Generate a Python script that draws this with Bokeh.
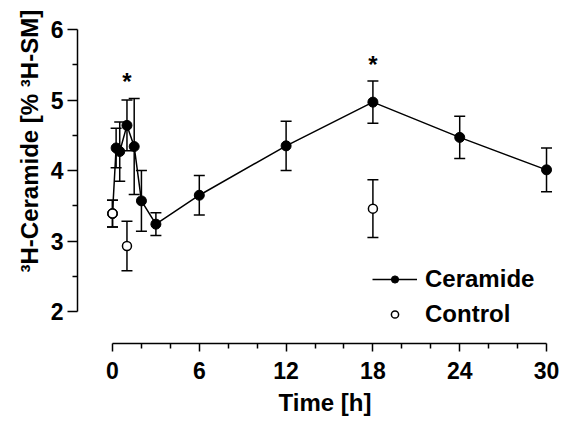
import math
from bokeh.plotting import figure
from bokeh.models import (ColumnDataSource, Whisker, TeeHead, FixedTicker, Title,
                          Range1d)
from bokeh.core.properties import value
from bokeh.embed import file_html
from bokeh.resources import INLINE

# ---- data ----
cer_time = [0, 0.25, 0.5, 1, 1.5, 2, 3, 6, 12, 18, 24, 30]
cer_mean = [3.39, 4.32, 4.27, 4.64, 4.34, 3.57, 3.24, 3.65, 4.35, 4.97, 4.47, 4.01]
cer_err = [0.19, 0.28, 0.42, 0.36, 0.68, 0.43, 0.16, 0.28, 0.35, 0.30, 0.30, 0.31]

ctl_time = [0, 1, 18]
ctl_mean = [3.39, 2.93, 3.46]
ctl_err = [0.19, 0.35, 0.41]

sig_time = [1, 18]
sig_y = [5.26, 5.50]
sig_text = ["*", "*"]

x_ticks = [0, 6, 12, 18, 24, 30]
x_minor = [2, 4, 8, 10, 14, 16, 20, 22, 26, 28]
y_ticks = [2, 3, 4, 5, 6]
y_minor = [2.5, 3.5, 4.5, 5.5]

x_title = "Time [h]"
y_title = "³H-Ceramide [% ³H-SM]"

FONT = "Liberation Sans"

cer_src = ColumnDataSource(dict(
    x=cer_time, y=cer_mean,
    lo=[m - e for m, e in zip(cer_mean, cer_err)],
    hi=[m + e for m, e in zip(cer_mean, cer_err)]))
ctl_src = ColumnDataSource(dict(
    x=ctl_time, y=ctl_mean,
    lo=[m - e for m, e in zip(ctl_mean, ctl_err)],
    hi=[m + e for m, e in zip(ctl_mean, ctl_err)]))
sig_src = ColumnDataSource(dict(x=sig_time, y=sig_y, t=sig_text))

p = figure(width=561, height=421, output_backend="svg", toolbar_location=None,
           x_range=Range1d(-2.419, 30.69), y_range=Range1d(1.548, 6.269),
           min_border_left=77, min_border_right=5, min_border_top=10,
           min_border_bottom=77, outline_line_color=None)
p.grid.visible = False
p.background_fill_color = "white"
p.border_fill_color = "white"

# error bars
for src in (cer_src, ctl_src):
    w = Whisker(source=src, base="x", upper="hi", lower="lo", dimension="height",
                line_color="black", line_width=1.5,
                upper_head=TeeHead(size=11, line_width=1.5, line_color="black"),
                lower_head=TeeHead(size=11, line_width=1.5, line_color="black"))
    p.add_layout(w)

p.line("x", "y", source=cer_src, line_color="black", line_width=1.5,
       legend_label="Ceramide")
p.scatter("x", "y", source=cer_src, size=10, fill_color="black",
          line_color="black", legend_label="Ceramide")
p.scatter("x", "y", source=ctl_src, size=9, fill_color="white",
          line_color="black", line_width=1.5, legend_label="Control")

p.text("x", "y", text="t", source=sig_src, text_font=value(FONT),
       text_font_style="bold", text_font_size="24px", text_align="center",
       text_baseline="middle", text_color="black")

# axes
for ax in (p.xaxis[0], p.yaxis[0]):
    ax.axis_line_color = "black"
    ax.axis_line_width = 1.5
    ax.major_tick_line_color = "black"
    ax.major_tick_line_width = 1.5
    ax.minor_tick_line_color = "black"
    ax.minor_tick_line_width = 1.5
    ax.major_tick_in = 0
    ax.minor_tick_in = 0
    ax.major_label_text_font = FONT
    ax.major_label_text_font_style = "bold"
    ax.major_label_text_font_size = "23px"
    ax.major_label_text_color = "black"

p.xaxis.ticker = FixedTicker(ticks=x_ticks, minor_ticks=x_minor)
p.xaxis.bounds = (0, 30)
p.xaxis.major_tick_out = 8
p.xaxis.minor_tick_out = 5
p.xaxis.major_label_standoff = 10

p.yaxis.ticker = FixedTicker(ticks=y_ticks, minor_ticks=y_minor)
p.yaxis.bounds = (2, 6)
p.yaxis.major_tick_out = 10
p.yaxis.minor_tick_out = 5
p.yaxis.major_label_standoff = 4

# axis titles (as side titles so they can be offset)
p.add_layout(Title(text=y_title, align="left", offset=71, standoff=10,
                   text_font=FONT, text_font_style="bold", text_font_size="24px",
                   text_color="black"), "left")
p.add_layout(Title(text=x_title, align="left", offset=201, standoff=11,
                   text_font=FONT, text_font_style="bold", text_font_size="24px",
                   text_color="black"), "below")

# legend
lg = p.legend[0]
lg.location = (295, 15)
lg.padding = 0
lg.margin = 0
lg.border_line_color = None
lg.background_fill_alpha = 0
lg.glyph_width = 45
lg.glyph_height = 18
lg.label_standoff = 8
lg.spacing = 7
lg.label_text_font = FONT
lg.label_text_font_style = "bold"
lg.label_text_font_size = "24px"
lg.label_text_color = "black"

open("out.html", "w").write(file_html(p, INLINE))
